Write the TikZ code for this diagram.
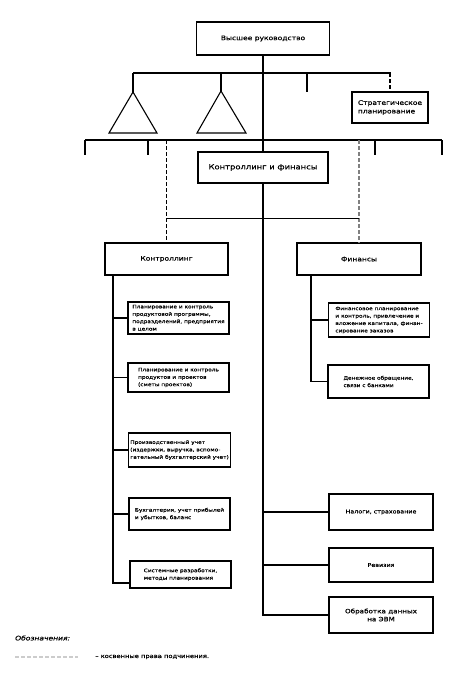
\documentclass[tikz,border=0pt]{standalone}
\usepackage{fontspec}
\setmainfont{DejaVu Sans}[FakeStretch=1.2,FakeBold=0.6]
\begin{document}
\begin{tikzpicture}[x=1pt,y=-1pt]
\tikzset{
  box/.style={draw, line width=1.2pt, inner sep=2pt, anchor=center},
  ln/.style={line width=1.1pt},
  dsh/.style={line width=1.1pt, dash pattern=on 4pt off 2pt},
  sm/.style={font=\fontsize{4.85}{7.4}\selectfont, align=left},
  cbox/.style={box, sm, minimum width=101, minimum height=32},
}
\useasboundingbox (0,0) rectangle (465,675);
% boxes
\node[box, minimum width=133, minimum height=33, font=\fontsize{6.3}{8}\selectfont] (top) at (263,38.5) {Высшее руководство};
\node[box, minimum width=76, minimum height=31, align=left, font=\fontsize{6.3}{8.5}\selectfont] (strat) at (390,107.5) {Стратегическое\\планирование};
\node[box, minimum width=130, minimum height=31, font=\fontsize{7}{9}\selectfont] (kf) at (263,167.5) {Контроллинг и финансы};
\node[box, minimum width=123, minimum height=32, font=\fontsize{6.3}{8}\selectfont] (ctrl) at (166.5,259) {Контроллинг};
\node[box, minimum width=124, minimum height=32, font=\fontsize{6.3}{8}\selectfont] (fin) at (359,259) {Финансы};
\node[cbox] (c1) at (178.5,318) {Планирование и контроль\\продуктовой программы,\\подразделений, предприятия\\в целом};
\node[cbox, minimum height=29] (c2) at (178.5,377.5) {Планирование и контроль\\продуктов и проектов\\(сметы проектов)};
\node[cbox, minimum height=34] (c3) at (179.5,450) {Производственный учет\\(издержки, выручка, вспомо-\\гательный бухгалтерский учет)};
\node[cbox] (c4) at (179.5,514) {Бухгалтерия, учет прибылей\\и убытков, баланс};
\node[cbox, minimum height=27] (c5) at (180.5,574.5) {Системные разработки,\\методы планирования};
\node[cbox, minimum height=34] (fA) at (379,320) {Финансовое планирование\\и контроль, привлечение и\\вложение капитала, финан-\\сирование заказов};
\node[cbox, minimum height=33] (fB) at (378.5,381.5) {Денежное обращение,\\связи с банками};
\node[box, minimum width=104, minimum height=36, font=\fontsize{5.3}{7}\selectfont] (n1) at (381,512) {Налоги, страхование};
\node[box, minimum width=104, minimum height=34, font=\fontsize{5.3}{7}\selectfont] (n2) at (381,565) {Ревизия};
\node[box, minimum width=104, minimum height=36, align=center, font=\fontsize{6}{8}\selectfont] (n3) at (381,615) {Обработка данных\\на ЭВМ};
% coordinates
\coordinate (h1l) at (133,73);
\coordinate (h1r) at (391,73);
\coordinate (tk1) at (307,73);
\coordinate (tk1e) at (307,92);
\coordinate (a1) at (133,92);
\coordinate (a2t) at (221,73);
\coordinate (a2) at (221,91);
\coordinate (h2l) at (85,140);
\coordinate (h2r) at (442,140);
\coordinate (cv) at (113,275);
\coordinate (fv) at (311,275);
% trunk
\draw[ln] (top.south) -- (kf.north);
\draw[ln] (kf.south) |- (n3.west);
\draw[ln] (kf.south |- n1.west) -- (n1.west);
\draw[ln] (kf.south |- n2.west) -- (n2.west);
% first level
\draw[ln] (h1l) -- (h1r);
\draw[ln] (h1l) -- (a1);
\draw[ln] (a2t) -- (a2);
\draw[ln] (tk1) -- (tk1e);
\draw[dsh] (strat.north |- h1r) -- (strat.north);
\draw[ln] (a1) -- (109,133) -- (157,133) -- cycle;
\draw[ln] (a2) -- (197,133) -- (246,133) -- cycle;
% second level
\draw[ln] (h2l) -- (h2r);
\foreach \xx in {85,148,375,442} \draw[ln] (\xx,140) -- (\xx,155);
\draw[dsh] (ctrl.north |- h2l) -- (ctrl.north);
\draw[dsh, gray] (fin.north |- h2l) -- (fin.north);
\draw[ln, line width=0.8pt] (ctrl.north |- 0,218) -- (fin.north |- 0,218);
% controlling branch
\draw[ln] (cv) |- ([yshift=-8.5pt]c5.west);
\foreach \b in {c1,c2,c3,c4} \draw[ln] (cv |- \b.west) -- (\b.west);
% finance branch
\draw[ln] (fv) |- (fB.west);
\draw[ln] (fv |- fA.west) -- (fA.west);
% legend
\node[anchor=west, inner sep=0pt, font=\fontsize{6.3}{8}\selectfont\itshape] (leg) at (15,638) {Обозначения:};
\coordinate (l1) at (15,657);
\coordinate (l2) at (78,657);
\draw[dsh, gray!40] (l1) -- (l2);
\node[anchor=west, inner sep=0pt, font=\fontsize{5.6}{7}\selectfont] (legt) at (95,657) {– косвенные права подчинения.};
\end{tikzpicture}
\end{document}
